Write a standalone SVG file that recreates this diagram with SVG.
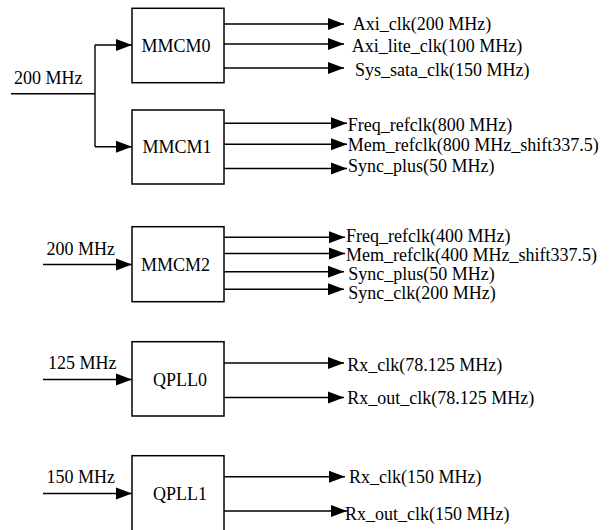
<svg xmlns="http://www.w3.org/2000/svg" width="615" height="530" viewBox="0 0 615 530">
<defs>
<marker id="ah" markerUnits="userSpaceOnUse" markerWidth="17" markerHeight="13" refX="16" refY="6" orient="auto" overflow="visible">
<path d="M0,0 L16,6 L0,12 z" fill="#000"/>
</marker>
<style>
.box{fill:#fff;stroke:#000;stroke-width:1.5}
.ln{fill:none;stroke:#000;stroke-width:1.4}
.ar{fill:none;stroke:#000;stroke-width:1.4;marker-end:url(#ah)}
.lb{font-family:"Liberation Serif","Times New Roman",serif;font-size:18px;fill:#000}
.nm{font-family:"Liberation Serif","Times New Roman",serif;font-size:18px;fill:#000;text-anchor:middle}
</style>
</defs>
<rect width="615" height="530" fill="#fff"/>
<g id="connectors">
<path class="ln" d="M11,93.7 H95 M95,45 V146.7"/>
<path class="ar" d="M95,45 H132"/>
<path class="ar" d="M95,146.7 H132"/>
<path class="ar" d="M224,24 H344"/>
<path class="ar" d="M224,44 H344"/>
<path class="ar" d="M224,68 H344"/>
<path class="ar" d="M224,123.3 H347"/>
<path class="ar" d="M224,144.3 H347"/>
<path class="ar" d="M224,168.5 H347"/>
<path class="ar" d="M43,264.5 H132"/>
<path class="ar" d="M224,237.3 H345"/>
<path class="ar" d="M224,253.5 H345"/>
<path class="ar" d="M224,271.7 H344"/>
<path class="ar" d="M224,289.3 H344"/>
<path class="ar" d="M43,379.5 H132"/>
<path class="ar" d="M224,363 H344"/>
<path class="ar" d="M224,397.5 H344"/>
<path class="ar" d="M43,493.5 H132"/>
<path class="ar" d="M224,476.7 H345"/>
<path class="ar" d="M224,511 H347"/>
</g>
<g id="in-labels">
<text class="lb" x="14" y="84">200 MHz</text>
<text class="lb" x="46.5" y="255">200 MHz</text>
<text class="lb" x="48" y="369">125 MHz</text>
<text class="lb" x="46.5" y="483">150 MHz</text>
</g>
<g id="MMCM0">
<rect class="box" x="132" y="8.3" width="92" height="74.4"/>
<text class="nm" x="176" y="52">MMCM0</text>
</g>
<g id="MMCM1">
<rect class="box" x="132" y="110" width="92" height="74"/>
<text class="nm" x="177" y="152.5">MMCM1</text>
</g>
<g id="MMCM2">
<rect class="box" x="132" y="226.7" width="92" height="75"/>
<text class="nm" x="175.5" y="271">MMCM2</text>
</g>
<g id="QPLL0">
<rect class="box" x="132" y="341.7" width="92" height="74.3"/>
<text class="nm" x="180" y="386">QPLL0</text>
</g>
<g id="QPLL1">
<rect class="box" x="132" y="455.7" width="92" height="80"/>
<text class="nm" x="180" y="500">QPLL1</text>
</g>
<g id="out-labels">
<text class="lb" x="352.7" y="30">Axi_clk(200 MHz)</text>
<text class="lb" x="351.7" y="51.5">Axi_lite_clk(100 MHz)</text>
<text class="lb" x="355" y="76">Sys_sata_clk(150 MHz)</text>
<text class="lb" x="347.7" y="130.5">Freq_refclk(800 MHz)</text>
<text class="lb" x="347.7" y="150.5">Mem_refclk(800 MHz_shift337.5)</text>
<text class="lb" x="348" y="172">Sync_plus(50 MHz)</text>
<text class="lb" x="346" y="242">Freq_refclk(400 MHz)</text>
<text class="lb" x="346" y="260.5">Mem_refclk(400 MHz_shift337.5)</text>
<text class="lb" x="348.3" y="280">Sync_plus(50 MHz)</text>
<text class="lb" x="348.3" y="299">Sync_clk(200 MHz)</text>
<text class="lb" x="347.3" y="371">Rx_clk(78.125 MHz)</text>
<text class="lb" x="347.3" y="404">Rx_out_clk(78.125 MHz)</text>
<text class="lb" x="349" y="483">Rx_clk(150 MHz)</text>
<text class="lb" x="345" y="520">Rx_out_clk(150 MHz)</text>
</g>
</svg>
